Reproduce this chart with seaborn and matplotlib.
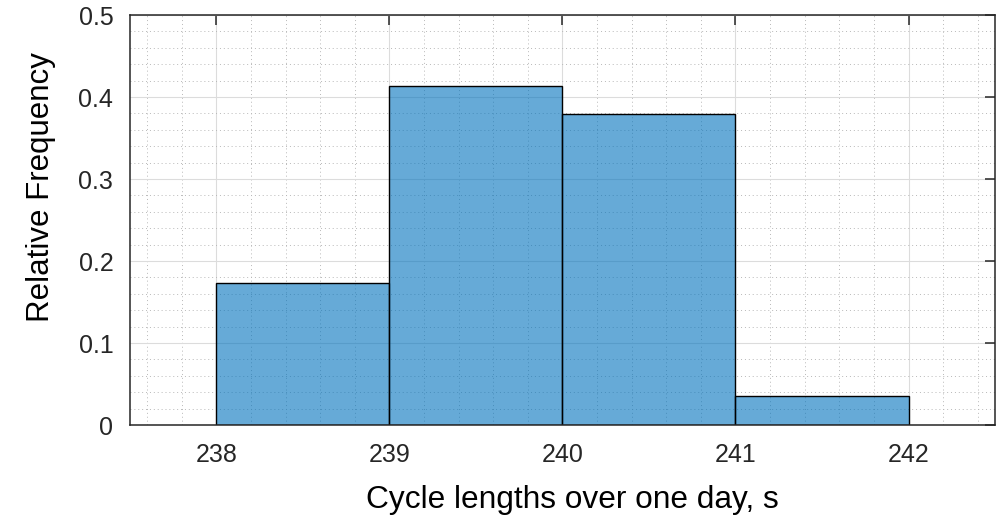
import numpy as np
import pandas as pd
import seaborn as sns
import matplotlib.pyplot as plt
from matplotlib.ticker import MultipleLocator, FuncFormatter

# bin centres (s) and relative frequency
cycle_len = [238.5, 239.5, 240.5, 241.5]
rel_freq = [0.173, 0.414, 0.379, 0.035]
bin_edges = [238, 239, 240, 241, 242]

df = pd.DataFrame({"cycle": cycle_len, "freq": rel_freq})

sns.set_style("white")
plt.rcParams['font.family'] = ['Liberation Sans', 'DejaVu Sans']

fig = plt.figure(figsize=(9.96, 5.19), dpi=100)
ax = fig.add_axes([0.1305, 0.181, 0.8685, 0.790])

# grid first so the translucent bars sit on top of it
ax.set_axisbelow(True)
ax.xaxis.set_minor_locator(MultipleLocator(0.2))
ax.yaxis.set_minor_locator(MultipleLocator(0.02))
ax.grid(which='major', color='#dcdcdc', linewidth=0.8, linestyle='-')
ax.grid(which='minor', color='#b8b8b8', linewidth=0.7, linestyle=(0, (1, 3)))

sns.histplot(data=df, x="cycle", weights="freq", bins=bin_edges,
             color=(0, 0.447, 0.741), alpha=0.6, edgecolor='black',
             linewidth=1.0, ax=ax)

ax.set_xlim(237.5, 242.5)
ax.set_ylim(0, 0.5)
ax.set_xticks([238, 239, 240, 241, 242])
ax.set_yticks([0, 0.1, 0.2, 0.3, 0.4, 0.5])
ax.yaxis.set_major_formatter(FuncFormatter(lambda v, p: '0' if v == 0 else f'{v:g}'))

ax.tick_params(which='major', direction='in', length=7, width=1.1,
               top=True, right=True, labelsize=18, colors='#262626')
ax.tick_params(axis='x', pad=13)
ax.tick_params(axis='y', pad=12)
ax.tick_params(which='minor', length=0)
for s in ax.spines.values():
    s.set_color('#262626')
    s.set_linewidth(1.1)

ax.set_xlabel('Cycle lengths over one day, s', fontsize=22.8, color='black', labelpad=13)
ax.set_ylabel('Relative Frequency', fontsize=22.5, color='black', labelpad=16)
# labels sit a little off centre in the original
ax.xaxis.label.set_x(0.512)
ax.yaxis.label.set_y(0.58)

fig.savefig('out.png', dpi=100)
